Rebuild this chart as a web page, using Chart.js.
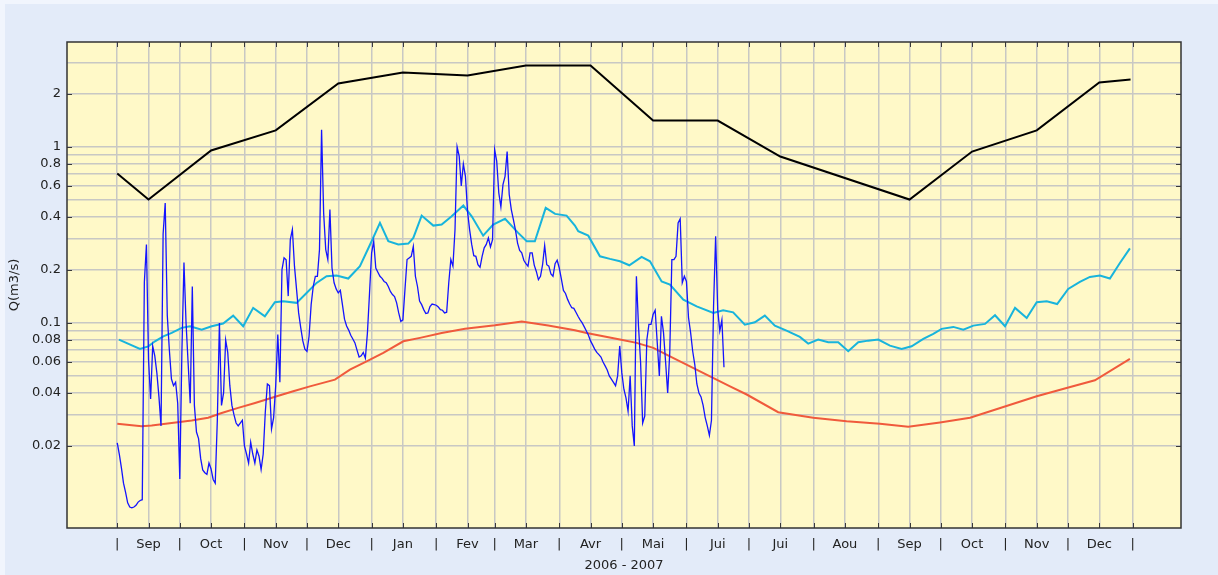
<!DOCTYPE html>
<html>
<head>
<meta charset="utf-8">
<script src="https://cdn.jsdelivr.net/npm/chart.js@4.4.1/dist/chart.umd.min.js"></script>
<style>
  html, body { margin: 0; padding: 0; background: #eef3fc; }
  #wrap { position: absolute; left: 0; top: 0; width: 1218px; height: 575px; }
</style>
</head>
<body>
<div id="wrap"><canvas id="c"></canvas></div>
<script>
// ---- Data (x = days since 1 Sep 2006) ----
const monthStartDays = [0, 30, 61, 91, 122, 153, 181, 212, 242, 273, 303, 334, 365, 395, 426, 456, 487];
const monthNames = ['Sep', 'Oct', 'Nov', 'Dec', 'Jan', 'Fev', 'Mar', 'Avr', 'Mai', 'Jui', 'Jui', 'Aou', 'Sep', 'Oct', 'Nov', 'Dec'];
const yGridValues = [0.02, 0.03, 0.04, 0.05, 0.06, 0.07, 0.08, 0.09, 0.1, 0.2, 0.3, 0.4, 0.5, 0.6, 0.7, 0.8, 0.9, 1, 2, 3];
const yLabelValues = [0.02, 0.04, 0.06, 0.08, 0.1, 0.2, 0.4, 0.6, 0.8, 1, 2];
const xAxisTitle = '2006 - 2007';
const yAxisTitle = 'Q(m3/s)';

// Daily observed discharge, starting 1 Sep 2006
const dailyFlow = [
  0.0208, 0.0179, 0.0150, 0.0123, 0.0109, 0.0095, 0.0090, 0.0089, 0.0090, 0.0092,
  0.0096, 0.0098, 0.0099, 0.17, 0.279, 0.062, 0.037, 0.074, 0.065, 0.052,
  0.038, 0.026, 0.32, 0.48, 0.11, 0.070, 0.048, 0.044, 0.046, 0.035,
  0.013, 0.068, 0.22, 0.10, 0.059, 0.035, 0.161, 0.034, 0.024, 0.022,
  0.017, 0.0146, 0.0141, 0.0138, 0.016, 0.0148, 0.0129, 0.0123, 0.028, 0.10,
  0.034, 0.040, 0.080, 0.068, 0.044, 0.034, 0.030, 0.027, 0.026, 0.027,
  0.028, 0.020, 0.018, 0.016, 0.021, 0.018, 0.016, 0.019, 0.0175, 0.0147,
  0.018, 0.031, 0.045, 0.044, 0.025, 0.029, 0.044, 0.086, 0.046, 0.20,
  0.234, 0.228, 0.142, 0.297, 0.339, 0.21, 0.155, 0.114, 0.094, 0.079,
  0.071, 0.069, 0.084, 0.127, 0.161, 0.184, 0.184, 0.261, 1.25, 0.42,
  0.261, 0.229, 0.44, 0.205, 0.169, 0.156, 0.148, 0.153, 0.127, 0.105,
  0.096, 0.091, 0.085, 0.081, 0.077, 0.070, 0.064, 0.065, 0.068, 0.063,
  0.088, 0.148, 0.25, 0.29, 0.205, 0.194, 0.184, 0.179, 0.172, 0.169,
  0.161, 0.151, 0.145, 0.141, 0.130, 0.114, 0.102, 0.104, 0.155, 0.229,
  0.234, 0.239, 0.272, 0.184, 0.161, 0.133, 0.127, 0.119, 0.113, 0.114,
  0.124, 0.128, 0.127, 0.126, 0.123, 0.119, 0.118, 0.114, 0.115, 0.169,
  0.229, 0.21, 0.339, 1.0, 0.885, 0.60, 0.80, 0.68, 0.43, 0.339,
  0.279, 0.241, 0.239, 0.214, 0.207, 0.239, 0.267, 0.279, 0.304, 0.27,
  0.297, 0.965, 0.83, 0.548, 0.456, 0.61, 0.68, 0.94, 0.536, 0.44,
  0.386, 0.336, 0.284, 0.258, 0.25, 0.227, 0.217, 0.21, 0.25, 0.25,
  0.213, 0.196, 0.176, 0.184, 0.214, 0.275, 0.214, 0.21, 0.19, 0.184,
  0.217, 0.227, 0.205, 0.178, 0.153, 0.147, 0.136, 0.128, 0.122, 0.121,
  0.115, 0.109, 0.104, 0.100, 0.095, 0.090, 0.085, 0.079, 0.075, 0.071,
  0.068, 0.066, 0.064, 0.060, 0.057, 0.054, 0.050, 0.048, 0.046, 0.044,
  0.050, 0.074, 0.052, 0.042, 0.0375, 0.0315, 0.050, 0.026, 0.020, 0.184,
  0.096, 0.060, 0.027, 0.0295, 0.080, 0.098, 0.098, 0.1115, 0.118, 0.077,
  0.050, 0.109, 0.088, 0.060, 0.040, 0.068, 0.229, 0.229, 0.239, 0.37,
  0.39, 0.169, 0.184, 0.172, 0.107, 0.088, 0.069, 0.058, 0.045, 0.040,
  0.038, 0.034, 0.029, 0.026, 0.023, 0.028, 0.124, 0.31, 0.119, 0.090,
  0.104, 0.056
];

// Monthly maximum curve (black)
const maxDays = [0, 15, 45, 76, 106, 137, 168, 196, 227, 257, 288, 318, 380, 410, 441, 471, 486];
const maxValues = [0.705, 0.502, 0.953, 1.24, 2.29, 2.64, 2.54, 2.90, 2.90, 1.41, 1.41, 0.881, 0.502, 0.94, 1.24, 2.32, 2.41];

// Mean curve (cyan)
const meanDays = [0.8, 10.9, 14.9, 18.1, 22.1, 26.1, 30.9, 34.9, 40.5, 45.3, 50.8, 55.6, 60.4, 65.2, 70.8, 75.6, 79.6, 86, 90.8, 95.6,
  100.4, 105.2, 110.8, 116.4, 122, 126, 130, 134.8, 139.6, 142, 146, 151.6, 155.6, 160.4, 166, 170, 175.5, 180.3, 186, 192.3,
  196.4, 200.3, 205.5, 210, 215.5, 219.5, 221.1, 225.9, 231.5, 236.3, 241.1, 245.6, 251.5, 255.5, 261.1, 265.1, 271.5, 277.9, 285.9, 290.6,
  295.4, 301, 305.8, 310.6, 315.4, 321, 327.4, 331.4, 336.2, 341, 345.8, 350.6, 355.4, 360.2, 365, 370.6, 376.2, 381, 386.6, 391.4,
  395.4, 401, 405.8, 410.6, 416.2, 421, 425.8, 430.6, 436.2, 441, 445.8, 450.8, 456.1, 461.7, 466.5, 471.3, 476.1, 480.9, 485.7];
const meanValues = [0.0804, 0.0712, 0.0736, 0.0786, 0.0839, 0.0877, 0.0937, 0.0957, 0.0916, 0.0957, 0.0991, 0.110, 0.0957, 0.1217, 0.109, 0.131, 0.1327, 0.130, 0.148, 0.1687,
  0.184, 0.186, 0.1786, 0.21, 0.291, 0.37, 0.291, 0.2786, 0.2823, 0.304, 0.407, 0.357, 0.362, 0.403, 0.464, 0.403, 0.313, 0.362, 0.390, 0.3245,
  0.291, 0.291, 0.450, 0.416, 0.407, 0.357, 0.3315, 0.313, 0.239, 0.231, 0.224, 0.2125, 0.237, 0.224, 0.172, 0.165, 0.1356, 0.1242, 0.114, 0.118,
  0.1148, 0.0978, 0.1008, 0.110, 0.0965, 0.0904, 0.0833, 0.0763, 0.0804, 0.0776, 0.0776, 0.069, 0.0776, 0.0793, 0.0804, 0.0743, 0.0712, 0.0736, 0.0811, 0.0866,
  0.0925, 0.0949, 0.0916, 0.0965, 0.0987, 0.1105, 0.0957, 0.1217, 0.1067, 0.131, 0.1327, 0.128, 0.156, 0.171, 0.1825, 0.186, 0.1786, 0.219, 0.265];

// Minimum curve (red)
const minDays = [0, 11.7, 16.5, 26.1, 35.7, 43.6, 50.1, 58, 66.1, 76.5, 84.4, 92.4, 104.4, 111.6, 119.6, 127.6, 137.2, 145.2, 155.6, 166.8,
  181.2, 194, 206.7, 219.5, 225.1, 233.1, 241.1, 249.1, 257.1, 265.1, 274.7, 284.3, 293.9, 301.9, 317, 333.8, 349.8, 365.8, 379.4, 394.6,
  409, 425, 441, 455.3, 468.9, 485.7];
const minValues = [0.0267, 0.0259, 0.0261, 0.0270, 0.0279, 0.0289, 0.0308, 0.0329, 0.0351, 0.0383, 0.0409, 0.0436, 0.0476, 0.0543, 0.0605, 0.0676, 0.0786, 0.0822, 0.0877, 0.0925,
  0.0969, 0.102, 0.0966, 0.0908, 0.0877, 0.0839, 0.0804, 0.0770, 0.0721, 0.0646, 0.0567, 0.0497, 0.0436, 0.0392, 0.0311, 0.0289, 0.0276, 0.0267, 0.0257, 0.0272,
  0.0289, 0.0333, 0.0383, 0.0427, 0.0472, 0.0624];

// ---- Build ----
const xTickDays = [];
const xTickLabel = {};
for (let i = 0; i < monthStartDays.length; i++) {
  xTickDays.push(monthStartDays[i]);
  xTickLabel[monthStartDays[i]] = '|';
  if (i < monthNames.length) {
    const mid = monthStartDays[i] + 15;
    xTickDays.push(mid);
    xTickLabel[mid] = monthNames[i];
  }
}
const pts = (xs, ys) => xs.map((x, i) => ({ x: x, y: ys[i] }));
const dailyPts = dailyFlow.map((v, i) => ({ x: i, y: v }));

const FONT = { family: 'DejaVu Sans', size: 13 };

const framePlugin = {
  id: 'frame',
  beforeDraw(chart) {
    const { ctx, chartArea: a, width, height } = chart;
    ctx.save();
    ctx.fillStyle = '#f1f5fd';
    ctx.fillRect(0, 0, width, height);
    ctx.fillStyle = '#e3ebf9';
    ctx.fillRect(5, 4, width - 5, height - 4);
    ctx.fillStyle = '#fff9c8';
    ctx.fillRect(a.left, a.top, a.right - a.left, a.bottom - a.top);
    ctx.restore();
  },
  afterDraw(chart) {
    const { ctx, chartArea: a } = chart;
    const xs = chart.scales.x, ys = chart.scales.y;
    ctx.save();
    ctx.strokeStyle = '#3a3a3a';
    ctx.lineWidth = 1;
    ctx.beginPath();
    xs.ticks.forEach(t => {
      const px = Math.round(xs.getPixelForValue(t.value)) + 0.5;
      ctx.moveTo(px, a.top); ctx.lineTo(px, a.top + 5);
      ctx.moveTo(px, a.bottom); ctx.lineTo(px, a.bottom - 5);
    });
    ys.ticks.forEach(t => {
      if (!yLabelValues.includes(t.value)) return;
      const py = Math.round(ys.getPixelForValue(t.value)) + 0.5;
      ctx.moveTo(a.left, py); ctx.lineTo(a.left + 5, py);
      ctx.moveTo(a.right, py); ctx.lineTo(a.right - 5, py);
    });
    ctx.stroke();
    ctx.lineWidth = 1.5;
    ctx.strokeStyle = '#333';
    ctx.strokeRect(a.left, a.top, a.right - a.left, a.bottom - a.top);
    ctx.restore();
  }
};

new Chart(document.getElementById('c'), {
  type: 'line',
  plugins: [framePlugin],
  data: {
    datasets: [
      { label: 'Débit journalier', data: dailyPts, borderColor: '#1414ff', borderWidth: 1.3, pointRadius: 0, tension: 0 },
      { label: 'Maximum', data: pts(maxDays, maxValues), borderColor: '#000000', borderWidth: 2, pointRadius: 0, tension: 0 },
      { label: 'Moyenne', data: pts(meanDays, meanValues), borderColor: '#18b4dc', borderWidth: 2, pointRadius: 0, tension: 0 },
      { label: 'Minimum', data: pts(minDays, minValues), borderColor: '#f05a3c', borderWidth: 2, pointRadius: 0, tension: 0 }
    ]
  },
  options: {
    responsive: true,
    maintainAspectRatio: false,
    animation: false,
    devicePixelRatio: 1,
    layout: { padding: { top: 42, right: 37, left: 0, bottom: 0 } },
    plugins: { legend: { display: false }, tooltip: { enabled: false } },
    scales: {
      x: {
        type: 'linear',
        min: -24.1,
        max: 510.2,
        afterBuildTicks: s => { s.ticks = xTickDays.map(v => ({ value: v })); },
        afterFit: s => { s.height = 47; },
        grid: { color: '#c8c8c4', lineWidth: 1.5, drawTicks: false },
        border: { display: false },
        ticks: {
          autoSkip: false, maxRotation: 0, minRotation: 0, padding: 9,
          color: '#222', font: FONT,
          callback: v => xTickLabel[v] !== undefined ? xTickLabel[v] : ''
        },
        title: { display: true, text: xAxisTitle, color: '#222', font: FONT, padding: { top: 0, bottom: 2 } }
      },
      y: {
        type: 'logarithmic',
        min: 0.00684,
        max: 3.94,
        afterBuildTicks: s => { s.ticks = yGridValues.map(v => ({ value: v })); },
        afterFit: s => { s.width = 67; },
        grid: { color: '#c8c8c4', lineWidth: 1.5, drawTicks: false },
        border: { display: false },
        ticks: {
          autoSkip: false, padding: 6, color: '#222', font: FONT,
          callback: v => yLabelValues.includes(v) ? String(v) : ''
        },
        title: { display: true, text: yAxisTitle, color: '#222', font: FONT, padding: { top: 7, bottom: 0 } }
      }
    }
  }
});
</script>
</body>
</html>
